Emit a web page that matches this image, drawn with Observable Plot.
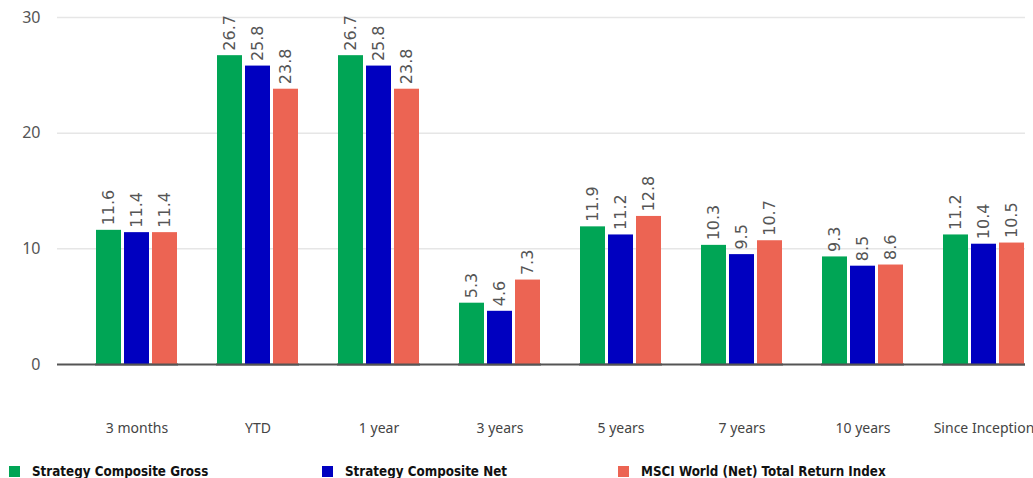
<!DOCTYPE html>
<html>
<head>
<meta charset="utf-8">
<script src="https://cdn.jsdelivr.net/npm/d3@7"></script>
<script src="https://cdn.jsdelivr.net/npm/@observablehq/plot@0.6"></script>
<style>
  html, body { margin: 0; padding: 0; background: #fff; overflow: hidden; }
  #chart { position: relative; width: 1033px; height: 462px; }
  #chart svg { display: block; position: absolute; left: 0; top: 0; }
  #legend { position: relative; height: 16px; font-family: "Liberation Sans Narrow", "DejaVu Sans Condensed", "Roboto", sans-serif; font-weight: bold; font-size: 13.3px; color: #111; }
  .item { position: absolute; top: 2px; display: flex; align-items: center; white-space: nowrap; }
  .sw { width: 11px; height: 11px; display: inline-block; margin-right: 12px; }
</style>
</head>
<body>
<div id="chart"></div>
<div id="legend"></div>
<script>
const categories = ["3 months", "YTD", "1 year", "3 years", "5 years", "7 years", "10 years", "Since Inception"];
const seriesNames = ["Strategy Composite Gross", "Strategy Composite Net", "MSCI World (Net) Total Return Index"];
const gross = [11.6, 26.7, 26.7, 5.3, 11.9, 10.3, 9.3, 11.2];
const net = [11.4, 25.8, 25.8, 4.6, 11.2, 9.5, 8.5, 10.4];
const msci = [11.4, 23.8, 23.8, 7.3, 12.8, 10.7, 8.6, 10.5];
const colors = ["#00a555", "#0000c0", "#ec6453"];
const yTicks = [0, 10, 20, 30];

const seriesValues = [gross, net, msci];
const data = [];
categories.forEach((c, i) => {
  seriesNames.forEach((s, j) => {
    data.push({category: c, series: s, value: seriesValues[j][i]});
  });
});

const common = {
  width: 1033,
  height: 462,
  marginLeft: 57,
  marginRight: 8,
  marginTop: 17,
  marginBottom: 98,
  y: {domain: [0, 30], ticks: yTicks, label: null}
};

// Background layer: axis, grid, baseline spanning the whole frame
const back = Plot.plot({
  ...common,
  style: {fontFamily: "'Noto Sans', sans-serif", background: "#fff"},
  x: {axis: null},
  marks: [
    Plot.ruleY(yTicks.filter(d => d > 0), {stroke: "#e6e6e6", strokeWidth: 1.5}),
    Plot.axisY(yTicks, {tickSize: 0, tickPadding: 17, fontSize: 16, fill: "#555", label: null}),
    Plot.ruleY([0], {stroke: "#555", strokeWidth: 2})
  ]
});

// Foreground layer: grouped bars and labels
const front = Plot.plot({
  ...common,
  style: {fontFamily: "'Noto Sans', sans-serif", background: "transparent"},
  fx: {domain: categories, paddingInner: 0.314, paddingOuter: 0.157, align: 1, label: null},
  x: {domain: seriesNames, paddingInner: 0.1, paddingOuter: 0, axis: null},
  y: {domain: [0, 30], ticks: yTicks, label: null, axis: null},
  color: {domain: seriesNames, range: colors},
  marks: [
    Plot.axisFx({anchor: "bottom", tickSize: 0, tickPadding: 59, fontSize: 14, fill: "#444", label: null}),
    Plot.barY(data, {fx: "category", x: "series", y: "value", fill: "series"}),
    Plot.text(data, {fx: "category", x: "series", y: "value", text: d => d.value.toFixed(1), rotate: -90, textAnchor: "start", lineAnchor: "middle", dy: -5, fontSize: 16, fill: "#555", fontFamily: "'DejaVu Sans', sans-serif"}),
    Plot.ruleY([0], {stroke: "#555", strokeWidth: 2})
  ]
});

const chartDiv = document.getElementById("chart");
chartDiv.appendChild(back);
chartDiv.appendChild(front);

const legend = document.getElementById("legend");
const legendLeft = [9, 322, 618];
seriesNames.forEach((s, j) => {
  const it = document.createElement("div");
  it.className = "item";
  it.style.left = legendLeft[j] + "px";
  it.innerHTML = `<span class="sw" style="background:${colors[j]}"></span><span>${s}</span>`;
  legend.appendChild(it);
});
</script>
</body>
</html>
